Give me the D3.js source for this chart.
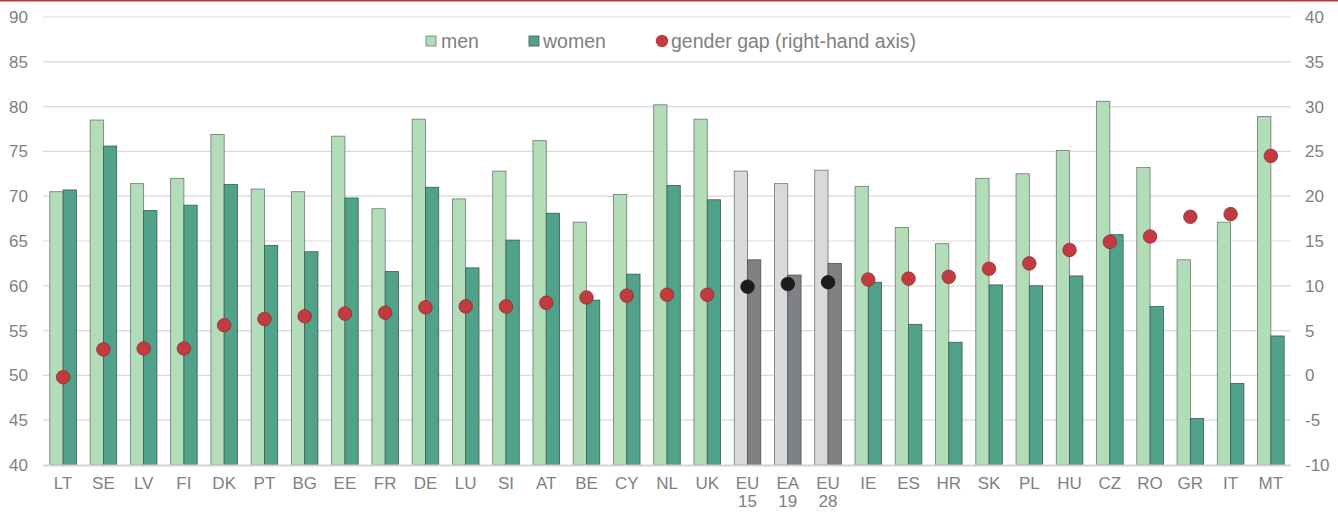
<!DOCTYPE html>
<head>
  <meta charset="utf-8">
  <script src="https://d3js.org/d3.v7.min.js"></script>
  <style>
    body { margin:0; background:#fff; }
    svg { display:block; font-family: "Liberation Sans", Arial, sans-serif; }
  </style>
</head>
<body>
  <svg width="1338" height="513"></svg>
  <script>
    var countries = ['LT','SE','LV','FI','DK','PT','BG','EE','FR','DE','LU','SI','AT','BE','CY','NL','UK',
      'EU 15','EA 19','EU 28','IE','ES','HR','SK','PL','HU','CZ','RO','GR','IT','MT'];
    var aggregates = ['EU 15','EA 19','EU 28'];
    var men = [70.5,78.5,71.4,72.0,76.9,70.8,70.5,76.7,68.6,78.6,69.7,72.8,76.2,67.1,70.2,80.2,78.6,
      72.8,71.4,72.9,71.1,66.5,64.7,72.0,72.5,75.1,80.6,73.2,62.9,67.1,78.9];
    var women = [70.7,75.6,68.4,69.0,71.3,64.5,63.8,69.8,61.6,71.0,62.0,65.1,68.1,58.4,61.3,71.2,69.6,
      62.9,61.2,62.5,60.4,55.7,53.7,60.1,60.0,61.1,65.7,57.7,45.2,49.1,54.4];
    var gap = [-0.2,2.9,3.0,3.0,5.6,6.3,6.6,6.9,7.0,7.6,7.7,7.7,8.1,8.7,8.9,9.0,9.0,
      9.9,10.2,10.4,10.7,10.8,11.0,11.9,12.5,14.0,14.9,15.5,17.7,18.0,24.5];
    var leftTicks = [40,45,50,55,60,65,70,75,80,85,90];
    var rightTicks = [-10,-5,0,5,10,15,20,25,30,35,40];

    var width = 1338, height = 513;
    var margin = {top: 17, bottom: 48, left: 43, right: 47};
    var textCol = '#7f7f7f';

    var svg = d3.select('svg');

    // red rule at the top
    svg.append('rect').attr('x', 0).attr('y', 0).attr('width', width).attr('height', 1.5).attr('fill', '#c8373c');

    var x = d3.scaleBand().domain(countries).range([margin.left, width - margin.right]).paddingInner(0.34).paddingOuter(0.17);
    var sub = d3.scaleBand().domain(['men','women']).range([0, x.bandwidth()]);
    var yL = d3.scaleLinear().domain([40, 90]).range([height - margin.bottom, margin.top]);
    var yR = d3.scaleLinear().domain([-10, 40]).range([height - margin.bottom, margin.top]);

    // gridlines
    svg.append('g').selectAll('line').data(leftTicks.slice(1)).enter().append('line')
      .attr('x1', margin.left).attr('x2', width - margin.right)
      .attr('y1', d => yL(d)).attr('y2', d => yL(d))
      .attr('stroke', '#d9d9d9').attr('stroke-width', 1.2);

    var isAgg = d => aggregates.indexOf(d) >= 0;
    var rows = countries.map((c, i) => ({c: c, men: men[i], women: women[i], gap: gap[i]}));

    // bars
    var g = svg.append('g');
    g.selectAll('rect.men').data(rows).enter().append('rect')
      .attr('x', d => x(d.c) + sub('men'))
      .attr('y', d => yL(d.men))
      .attr('width', sub.bandwidth())
      .attr('height', d => yL(40) - yL(d.men))
      .attr('fill', d => isAgg(d.c) ? '#d9d9db' : '#b3dcb9')
      .attr('stroke', '#6a7a6e').attr('stroke-width', 0.8);
    g.selectAll('rect.women').data(rows).enter().append('rect')
      .attr('x', d => x(d.c) + sub('women'))
      .attr('y', d => yL(d.women))
      .attr('width', sub.bandwidth())
      .attr('height', d => yL(40) - yL(d.women))
      .attr('fill', d => isAgg(d.c) ? '#808184' : '#50a38a')
      .attr('stroke', '#3f5a4e').attr('stroke-width', 0.8);

    // bottom axis line
    svg.append('line').attr('x1', margin.left).attr('x2', width - margin.right)
      .attr('y1', yL(40) + 0.5).attr('y2', yL(40) + 0.5)
      .attr('stroke', '#d4d4d4').attr('stroke-width', 2);

    // gender gap dots
    svg.append('g').selectAll('circle').data(rows).enter().append('circle')
      .attr('cx', d => x(d.c) + x.bandwidth() / 2)
      .attr('cy', d => yR(d.gap))
      .attr('r', 6.8)
      .attr('fill', d => isAgg(d.c) ? '#1c1c1c' : '#c13b40')
      .attr('stroke', d => isAgg(d.c) ? '#111' : '#8a2a2e').attr('stroke-width', 0.7);

    // axes
    var fmt = d => String(d);
    var axL = d3.axisLeft(yL).tickValues(leftTicks).tickFormat(fmt).tickSize(0).tickPadding(15);
    var axR = d3.axisRight(yR).tickValues(rightTicks).tickFormat(fmt).tickSize(0).tickPadding(14);
    var axB = d3.axisBottom(x).tickSize(0).tickPadding(12);

    svg.append('g').attr('transform', 'translate(' + margin.left + ',0)').call(axL)
      .call(a => a.select('.domain').remove());
    svg.append('g').attr('transform', 'translate(' + (width - margin.right) + ',0)').call(axR)
      .call(a => a.select('.domain').remove());
    var bx = svg.append('g').attr('transform', 'translate(0,' + yL(40) + ')').call(axB);
    bx.select('.domain').remove();
    bx.selectAll('.tick text').each(function(d) {
      var parts = d.split(' ');
      var t = d3.select(this).text(null);
      parts.forEach((p, i) => t.append('tspan').attr('x', 0).attr('dy', i === 0 ? '0.71em' : '1.05em').text(p));
    });
    svg.selectAll('.tick text').attr('fill', textCol).style('font-size', '17px')
      .style('font-family', '"Liberation Sans", Arial, sans-serif');

    // legend
    var leg = svg.append('g').attr('font-size', 19.5).attr('fill', textCol);
    var legY = 41;
    leg.append('rect').attr('x', 426).attr('y', legY - 5).attr('width', 10).attr('height', 10)
      .attr('fill', '#b3dcb9').attr('stroke', '#6a7a6e').attr('stroke-width', 0.8);
    leg.append('text').attr('x', 441).attr('y', legY).attr('dy', '0.35em').text('men');
    leg.append('rect').attr('x', 529).attr('y', legY - 5).attr('width', 10).attr('height', 10)
      .attr('fill', '#50a38a').attr('stroke', '#3f5a4e').attr('stroke-width', 0.8);
    leg.append('text').attr('x', 543).attr('y', legY).attr('dy', '0.35em').text('women');
    leg.append('circle').attr('cx', 662).attr('cy', legY).attr('r', 6.2).attr('fill', '#c13b40');
    leg.append('text').attr('x', 671).attr('y', legY).attr('dy', '0.35em').text('gender gap (right-hand axis)');
  </script>
</body>
